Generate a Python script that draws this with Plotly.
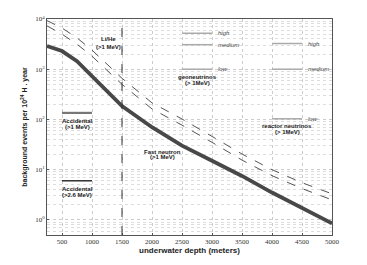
import math
import plotly.graph_objects as go

# ---------------- data ----------------
depth = [250, 500, 750, 1000, 1250, 1500, 2000, 2500, 3000, 3500, 4000, 4500, 5000]
fast_neutron = [2900, 2300, 1450, 720, 360, 185, 70, 30, 15, 7.5, 3.5, 1.7, 0.85]
lihe_high = [9300, 6600, 4200, 2400, 1260, 660, 214, 102, 46, 20.5, 10, 5.5, 3.3]
lihe_low = [7300, 5000, 3150, 1820, 950, 500, 162, 77, 35, 15.5, 7.6, 4.2, 2.5]

acc_depth = [500, 1000]
acc_1mev = 135
acc_26mev = 6

geo_depth = [2500, 3000]
geo_levels = {"high": 5200, "medium": 3080, "low": 1000}

reactor_depth = [4000, 4500]
reactor_levels = {"high": 3250, "medium": 1000, "low": 103}

lihe_depth_cut = 1500

x_ticks = [500, 1000, 1500, 2000, 2500, 3000, 3500, 4000, 4500, 5000]
y_ticks = [1, 10, 100, 1000, 10000]
y_ticktext = ["10<sup>0</sup>", "10<sup>1</sup>", "10<sup>2</sup>", "10<sup>3</sup>", "10<sup>4</sup>"]

# ---------------- figure ----------------
fig = go.Figure()

fig.add_trace(go.Scatter(x=depth, y=lihe_high, mode="lines",
                         line=dict(color="#555555", width=1, dash="dash"), showlegend=False))
fig.add_trace(go.Scatter(x=depth, y=lihe_low, mode="lines",
                         line=dict(color="#555555", width=1, dash="dash"), showlegend=False))
fig.add_trace(go.Scatter(x=depth, y=fast_neutron, mode="lines",
                         line=dict(color="#484848", width=3.8), showlegend=False))

fig.add_trace(go.Scatter(x=acc_depth, y=[acc_1mev] * 2, mode="lines",
                         line=dict(color="#777777", width=2.2), showlegend=False))
fig.add_trace(go.Scatter(x=acc_depth, y=[acc_26mev] * 2, mode="lines",
                         line=dict(color="#222222", width=1.4), showlegend=False))

for name, v in geo_levels.items():
    fig.add_trace(go.Scatter(x=geo_depth, y=[v] * 2, mode="lines",
                             line=dict(color="#aaaaaa", width=1.5), showlegend=False))
for name, v in reactor_levels.items():
    fig.add_trace(go.Scatter(x=reactor_depth, y=[v] * 2, mode="lines",
                             line=dict(color="#aaaaaa", width=1.5), showlegend=False))

fig.add_vline(x=lihe_depth_cut, line=dict(color="#333333", width=1, dash="dash"))

lab_font = dict(family="Liberation Sans", size=6, color="#222222")
it_font = dict(family="Liberation Sans", size=6, color="#444444")


def label(x, y, text, font=lab_font, xanchor="center"):
    fig.add_annotation(x=x, y=math.log10(y), text=text, showarrow=False,
                       font=font, xanchor=xanchor, yanchor="middle")


label(1270, 4000, "<b>Li/He</b>")
label(1270, 2800, "<b>(>1 MeV)</b>")

label(750, 92, "<b>Accidental</b>")
label(750, 70, "<b>(>1 MeV)</b>")
label(750, 4.2, "<b>Accidental</b>")
label(750, 3.2, "<b>(>2.6 MeV)</b>")

label(2170, 23, "<b>Fast neutron</b>")
label(2170, 17.5, "<b>(>1 MeV)</b>")

label(2750, 690, "<b>geoneutrinos</b>")
label(2750, 540, "<b>(> 1MeV)</b>")
for name, v in geo_levels.items():
    label(3060, v, "<i>" + name + "</i>", font=it_font, xanchor="left")

label(4250, 75, "<b>reactor neutrinos</b>")
label(4250, 56, "<b>(> 1MeV)</b>")
for name, v in reactor_levels.items():
    label(4560, v, "<i>" + name + "</i>", font=it_font, xanchor="left")

tick_font = dict(family="Liberation Serif", size=7, color="#333333")

fig.update_xaxes(range=[250, 5000], tickvals=x_ticks, ticktext=[str(t) for t in x_ticks],
                 showgrid=True, gridcolor="#cccccc", griddash="dot", gridwidth=0.6,
                 showline=True, linecolor="#555555", linewidth=1, mirror=True,
                 ticks="inside", ticklen=2, tickcolor="#555555", tickfont=tick_font,
                 zeroline=False, automargin=False,
                 title=dict(text="<b>underwater depth (meters)</b>",
                            font=dict(family="Liberation Sans", size=8, color="#222222"),
                            standoff=1))
fig.update_yaxes(type="log", range=[math.log10(0.5), 4], tickvals=y_ticks, ticktext=y_ticktext,
                 showgrid=True, gridcolor="#cccccc", griddash="dot", gridwidth=0.6,
                 minor=dict(showgrid=True, gridcolor="#dddddd", griddash="dot", gridwidth=0.6,
                            tickvals=[m * 10 ** e for e in range(-1, 4) for m in range(2, 10)]),
                 showline=True, linecolor="#555555", linewidth=1, mirror=True,
                 ticks="inside", ticklen=2, tickcolor="#555555", tickfont=tick_font,
                 automargin=False,
                 title=dict(text="<b>background events per 10<sup>24</sup> H . year</b>",
                            font=dict(family="Liberation Sans", size=7, color="#222222"),
                            standoff=6))

fig.update_layout(width=367, height=265, margin=dict(l=47, r=35, t=19, b=30),
                  paper_bgcolor="white", plot_bgcolor="white", showlegend=False)

fig.write_html("out.html", config={"displayModeBar": False},
               post_script="document.body.style.margin='0';document.body.style.padding='0';")
